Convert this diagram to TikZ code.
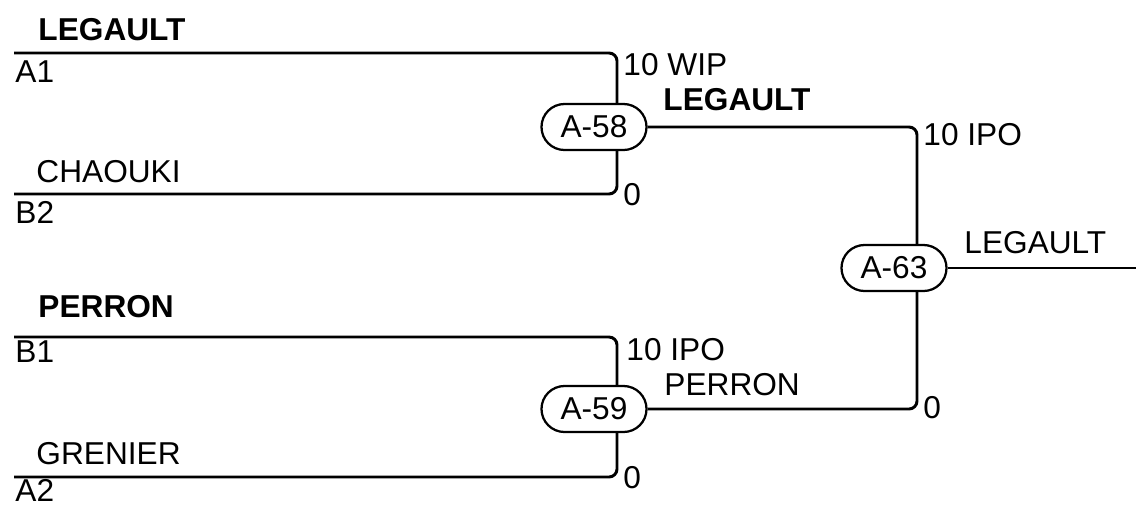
\documentclass[tikz,border=0pt]{standalone}
\usepackage{fontspec}
\setmainfont{Liberation Sans}
\usetikzlibrary{shapes.misc,calc}

\begin{document}
\begin{tikzpicture}[x=0.025cm,y=-0.025cm,line width=2.1pt,
    font=\fontsize{22.5}{27}\selectfont,
    match/.style={draw,rounded rectangle,line width=1.6pt,
      minimum width=2.625cm,minimum height=1.15cm,inner sep=0pt},
    lbl/.style={anchor=base west,inner sep=0pt},
    win/.style={lbl,font=\fontsize{22.5}{27}\selectfont\bfseries},
    wire/.style={rounded corners=0.2cm}]
  \useasboundingbox (0,0) rectangle (1136,507);
  % entries
  \coordinate (a1) at (14,53);
  \coordinate (b2) at (14,194);
  \coordinate (b1) at (14,337);
  \coordinate (a2) at (14,477);
  \coordinate (out) at (1136,268);
  % matches
  \node[match] (m58) at (594,127) {A-58};
  \node[match] (m59) at (594,409) {A-59};
  \node[match] (m63) at (894,268) {A-63};
  % connectors
  \draw[wire] (a1) -| ($(m58.north)+(23,0)$);
  \draw[wire] (b2) -| ($(m58.south)+(23,0)$);
  \draw[wire] (b1) -| ($(m59.north)+(23,0)$);
  \draw[wire] (a2) -| ($(m59.south)+(23,0)$);
  \draw[wire] (m58.east) -| ($(m63.north)+(23,0)$);
  \draw[wire] (m59.east) -| ($(m63.south)+(23,0)$);
  \draw (m63.east) -- (out);
  % names and seeds
  \node[win] (pa1) at (37,40) {LEGAULT};
  \node[lbl] (sa1) at (14,82) {A1};
  \node[lbl] (pb2) at (35,182) {CHAOUKI};
  \node[lbl] (sb2) at (14,223) {B2};
  \node[win] (pb1) at (37,317) {PERRON};
  \node[lbl] (sb1) at (14,362) {B1};
  \node[lbl] (pa2) at (35,464) {GRENIER};
  \node[lbl] (sa2) at (14,501) {A2};
  % scores and winners
  \node[lbl] (r58a) at (622,75) {10 WIP};
  \node[lbl] (r58b) at (622,205) {0};
  \node[win] (w58) at (662,110) {LEGAULT};
  \node[lbl] (r59a) at (625,360) {10 IPO};
  \node[lbl] (r59b) at (622,488) {0};
  \node[lbl] (w59) at (663,395) {PERRON};
  \node[lbl] (r63a) at (922,145) {10 IPO};
  \node[lbl] (r63b) at (922,418) {0};
  \node[lbl] (w63) at (963,253) {LEGAULT};
\end{tikzpicture}
\end{document}
